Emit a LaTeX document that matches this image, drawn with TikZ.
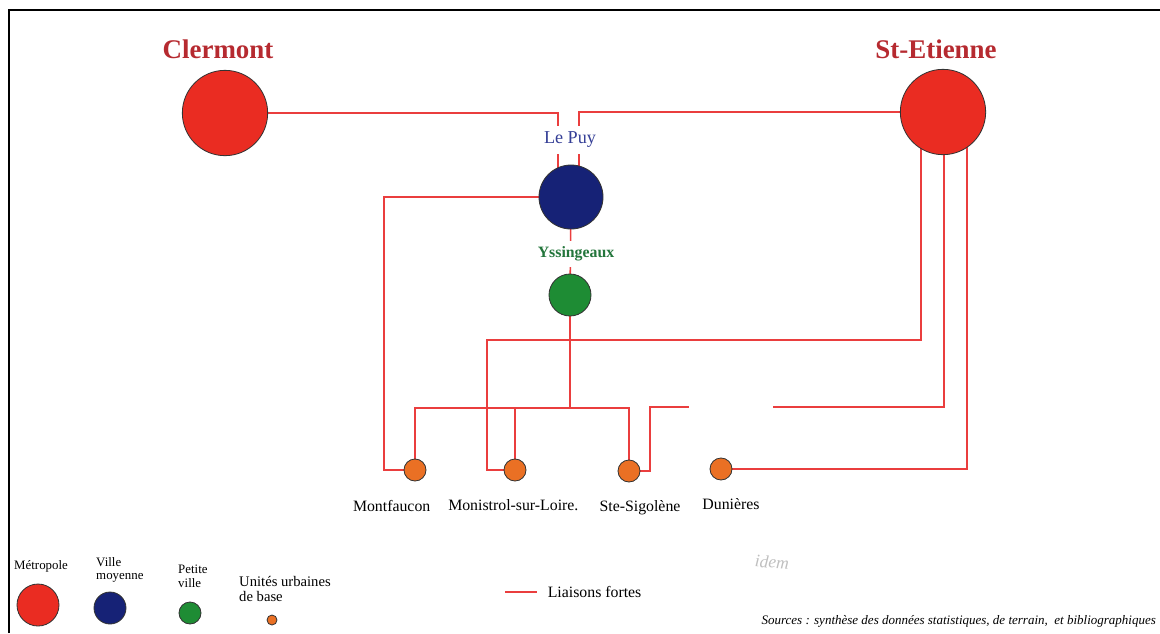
\documentclass[tikz,border=0pt]{standalone}
\usepackage{fontspec}
\setmainfont{Liberation Serif}
\usepackage{xcolor}
\usetikzlibrary{positioning,calc,backgrounds}
\definecolor{metrored}{RGB}{234,44,34}
\definecolor{moyblue}{RGB}{22,34,118}
\definecolor{petitgreen}{RGB}{30,140,52}
\definecolor{baseorange}{RGB}{234,112,36}
\definecolor{linkred}{RGB}{234,62,62}
\definecolor{namered}{RGB}{182,42,48}
\definecolor{nameblue}{RGB}{52,62,150}
\definecolor{namegreen}{RGB}{36,118,60}
\tikzset{
town/.style={
circle,
draw=black!80,
line width=0.7pt,
inner sep=0pt
},
metro/.style={town,fill=metrored,minimum size=2.56cm},
moyenne/.style={town,fill=moyblue,minimum size=1.92cm},
petite/.style={town,fill=petitgreen,minimum size=1.26cm},
base/.style={town,fill=baseorange,minimum size=0.66cm},
bigname/.style={
text=namered,
font=\fontsize{23}{26}\selectfont\bfseries
},
townname/.style={
fill=white,
inner xsep=1pt,
inner ysep=5pt
},
basename/.style={
font=\fontsize{13.5}{15}\selectfont
},
legend/.style={
align=left,
anchor=north west,
inner sep=0pt,
font=\fontsize{11}{11.5}\selectfont
},
link/.style={
draw=linkred,
line width=1.3pt
}
}

\begin{document}
\begin{tikzpicture}[x=0.03cm,y=-0.03cm]
\useasboundingbox (0,0) rectangle (1160,633);
\draw[line width=1.2pt] (9,633) -- (9,10) -- (1160,10);

% villes
\node[metro](clermont) at (225,113){};
\node[metro](stetienne) at (943,112){};
\node[moyenne](lepuy) at (571,197){};
\node[petite](yssingeaux) at (570,295){};
\node[base](montfaucon) at (415,470){};
\node[base](monistrol) at (515,470){};
\node[base](sigolene) at (629,471){};
\node[base](dunieres) at (721,469){};

\node[bigname](lclermont) at (218,49){Clermont};
\node[bigname](lstetienne) at (936,49){St-Etienne};
\node[townname,text=nameblue,font=\fontsize{15.5}{17}\selectfont](llepuy) at (570,140){Le Puy};
\node[townname,text=namegreen,font=\fontsize{13.5}{15}\selectfont\bfseries](lyssingeaux) at (576,254){Yssingeaux};
\node[basename,below=4.3mm of montfaucon,xshift=-7mm](lmontfaucon){Montfaucon};
\node[basename,below=4.3mm of monistrol,xshift=-0.5mm](lmonistrol){Monistrol-sur-Loire.};
\node[basename,below=4.3mm of sigolene,xshift=3.3mm](lsigolene){Ste-Sigolène};
\node[basename,below=4.3mm of dunieres,xshift=3mm](ldunieres){Dunières};

% liaisons fortes
\coordinate (fork) at (570,408);
\begin{scope}[on background layer]
\draw[link] (clermont.center) -| ($(lepuy.center)+(-13,0)$);
\draw[link] (stetienne.center) -| ($(lepuy.center)+(8,0)$);
\draw[link] (lepuy.center) -| (384,470) -- (montfaucon.center);
\draw[link] (lepuy.center) -- (yssingeaux.center) -- (fork);
\draw[link] (montfaucon.center) |- (sigolene |- fork) -- (sigolene.center);
\draw[link] (monistrol.center) -- (monistrol |- fork);
\draw[link] ($(stetienne.center)+(-22,0)$) |- (487,340) |- (monistrol.center);
\draw[link] ($(stetienne.center)+(1,0)$) |- (650,407) |- (sigolene.center);
\draw[link] ($(stetienne.center)+(24,0)$) |- (dunieres.center);
\end{scope}
\fill[white] (689,402) rectangle (773,412);

% legende
\node[town,fill=metrored,minimum size=1.26cm](lgmetro) at (38,605){};
\node[town,fill=moyblue,minimum size=0.96cm](lgmoyenne) at (110,608){};
\node[town,fill=petitgreen,minimum size=0.66cm](lgpetite) at (190,613){};
\node[town,fill=baseorange,minimum size=0.3cm](lgbase) at (272,620){};
\node[legend](tmetro) at (14,560){Métropole};
\node[legend](tmoyenne) at (96,557){Ville\\moyenne};
\node[legend](tpetite) at (178,565){Petite\\ville};
\node[legend,font=\fontsize{12.5}{12.5}\selectfont](tbase) at (239,576){Unités urbaines\\de base};
\coordinate (lgstart) at (505,592);
\draw[link] (lgstart) -- ++(32,0) coordinate (lgend);
\node[right=2mm of lgend,font=\fontsize{13.5}{15}\selectfont](tliaisons){Liaisons fortes};
\node[anchor=east,font=\fontsize{11.1}{12}\selectfont\itshape](sources) at (1160,621){Sources : synthèse des données statistiques, de terrain,\ \ et bibliographiques};
\node[text=black!25,font=\fontsize{15}{16}\selectfont\itshape,rotate=-4](idem) at (772,562){idem};
\end{tikzpicture}
\end{document}
